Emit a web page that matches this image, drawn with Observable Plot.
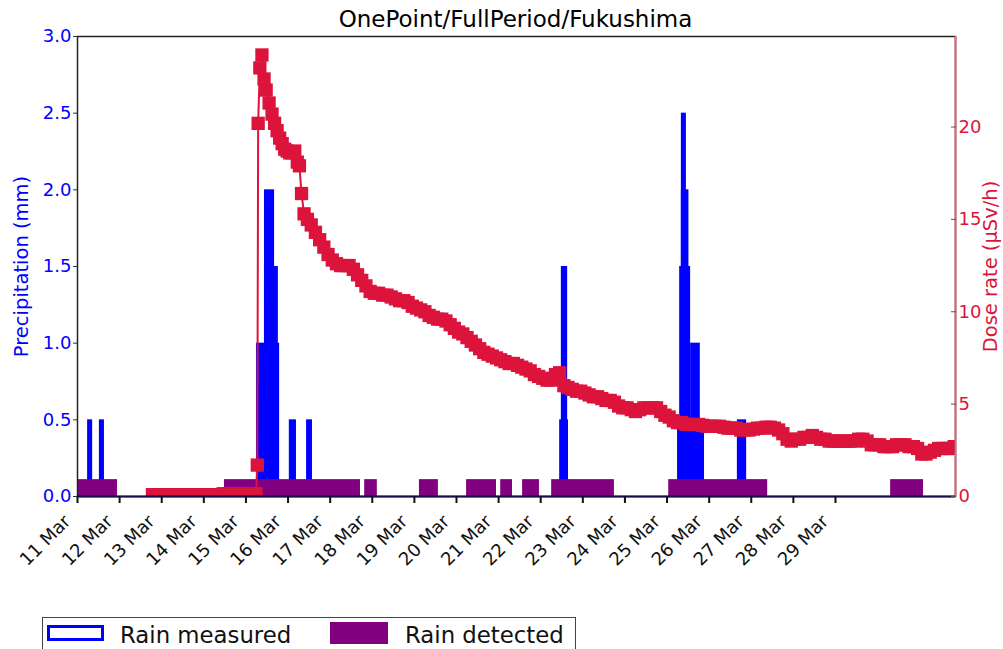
<!DOCTYPE html>
<html><head><meta charset="utf-8">
<script src="https://cdn.jsdelivr.net/npm/d3@7"></script>
<script src="https://cdn.jsdelivr.net/npm/@observablehq/plot@0.6"></script>
<style>
body{margin:0;background:#fff;font-family:"DejaVu Sans",sans-serif;overflow:hidden}
#wrap{position:relative;width:1003px;height:649px;overflow:hidden}
#title{position:absolute;left:0;width:1031px;top:8px;text-align:center;font-size:23px;line-height:23px;color:#000}
#chart{position:absolute;left:0;top:0}
#legend{position:absolute;left:42px;top:617px;width:534px;height:60px;border:1px solid #444;box-sizing:border-box}
.sw{position:absolute;box-sizing:border-box}
.lt{position:absolute;font-size:22.8px;line-height:22px;color:#111;white-space:nowrap}
</style></head>
<body><div id="wrap">
<div id="chart"></div>
<div id="title">OnePoint/FullPeriod/Fukushima</div>
<div id="legend">
  <div class="sw" style="left:4px;top:7px;width:57px;height:16px;border:3px solid blue;background:#fff"></div>
  <div class="lt" style="left:77px;top:6px">Rain measured</div>
  <div class="sw" style="left:287px;top:4px;width:58px;height:22px;background:purple"></div>
  <div class="lt" style="left:362px;top:6px">Rain detected</div>
</div>
</div>
<script>
// ---- data ----
const xDomain = [11, 31.85];           // days of March
const precipDomain = [0, 3];
const doseDomainMax = 24.9;

const dayTicks = [11,12,13,14,15,16,17,18,19,20,21,22,23,24,25,26,27,28,29];
const xTickLabels = ["11 Mar","12 Mar","13 Mar","14 Mar","15 Mar","16 Mar","17 Mar","18 Mar","19 Mar","20 Mar","21 Mar","22 Mar","23 Mar","24 Mar","25 Mar","26 Mar","27 Mar","28 Mar","29 Mar"];
const precipTicks = [0, 0.5, 1, 1.5, 2, 2.5, 3];
const doseTicks = [0, 5, 10, 15, 20];

// rain measured: [start day, end day] and precipitation (mm)
const rainStart = [11.24, 11.52, 15.25, 15.44, 15.44, 16.03, 16.44, 22.45, 22.49, 25.25, 25.30, 25.56, 25.34, 25.34, 26.67];
const rainEnd   = [11.36, 11.64, 15.80, 15.77, 15.68, 16.20, 16.58, 22.66, 22.64, 25.89, 25.56, 25.79, 25.52, 25.46, 26.89];
const rainValue = [0.5,   0.5,   1.0,   1.5,   2.0,   0.5,   0.5,   0.5,   1.5,   0.5,   1.5,   1.0,   2.0,   2.5,   0.5];

// rain detected periods
const detStart = [11.0, 14.49, 17.82, 19.12, 20.24, 21.05, 21.57, 22.26, 25.04, 30.31];
const detEnd   = [11.95, 17.72, 18.12, 19.57, 20.95, 21.33, 21.97, 23.75, 27.39, 31.09];
const detLevel = 0.11;

// dose rate (uSv/h)
const doseDay = [
 12.78,12.90,13.02,13.14,13.26,13.38,13.50,13.62,13.74,13.86,13.98,14.10,14.22,14.34,14.46,14.58,14.70,14.82,14.94,15.06,15.18,15.24,
 15.27,15.29,15.33,15.38,15.43,15.48,15.55,15.62,15.68,15.74,15.80,15.86,15.92,15.98,16.04,16.10,16.16,16.22,16.27,16.32,16.38,
 16.46,16.55,16.65,16.75,16.85,16.95,17.05,17.15,17.25,17.35,17.45,17.55,17.65,17.75,17.85,17.95,18.05,18.15,18.25,18.35,18.45,18.55,18.65,18.75,18.85,18.95,
 19.05,19.15,19.25,19.35,19.45,19.55,19.65,19.75,19.85,19.95,20.05,20.15,20.25,20.35,20.45,20.55,20.65,20.75,20.85,20.95,
 21.05,21.15,21.25,21.35,21.45,21.55,21.65,21.75,21.85,21.95,22.05,22.15,22.25,22.35,22.45,22.55,22.65,22.75,22.85,22.95,
 23.05,23.15,23.25,23.35,23.45,23.55,23.65,23.75,23.85,23.95,24.05,24.15,24.25,24.35,24.45,24.55,24.65,24.75,24.85,24.95,
 25.05,25.15,25.25,25.35,25.45,25.55,25.65,25.75,25.85,25.95,26.05,26.15,26.25,26.35,26.45,26.55,26.65,26.75,26.85,26.95,
 27.05,27.15,27.25,27.35,27.45,27.55,27.65,27.75,27.85,27.95,28.05,28.15,28.25,28.35,28.45,28.55,28.65,28.75,28.85,28.95,
 29.05,29.15,29.25,29.35,29.45,29.55,29.65,29.75,29.85,29.95,30.05,30.15,30.25,30.35,30.45,30.55,30.65,30.75,30.85,30.95,
 31.05,31.15,31.25,31.35,31.45,31.55,31.65,31.75,31.82];
const doseValue = [
 0.1,0.1,0.1,0.1,0.1,0.1,0.1,0.1,0.1,0.1,0.1,0.1,0.1,0.1,0.15,0.15,0.15,0.15,0.15,0.15,0.15,0.15,
 1.7,20.2,23.2,23.9,22.6,22.0,21.3,20.7,20.2,19.8,19.4,19.1,18.8,18.7,18.6,18.6,18.7,18.1,17.9,16.4,15.3,
 15.0,14.7,14.3,13.9,13.5,13.1,12.8,12.6,12.5,12.5,12.5,12.3,12.0,11.7,11.4,11.1,11.0,11.0,10.9,10.9,10.8,10.7,10.6,10.6,10.5,10.3,
 10.2,10.1,10.0,9.8,9.7,9.6,9.6,9.5,9.3,9.1,8.9,8.8,8.6,8.4,8.2,8.0,7.8,7.7,7.6,7.5,
 7.4,7.3,7.2,7.2,7.1,7.0,6.9,6.8,6.6,6.5,6.4,6.3,6.3,6.6,6.7,6.0,5.9,5.8,5.7,5.7,
 5.6,5.5,5.4,5.4,5.3,5.2,5.2,5.1,4.9,4.8,4.8,4.7,4.6,4.7,4.8,4.8,4.8,4.8,4.6,4.4,
 4.3,4.1,4.0,4.0,3.9,3.9,3.9,3.9,3.85,3.8,3.8,3.8,3.8,3.75,3.7,3.7,3.7,3.6,3.6,3.6,
 3.65,3.7,3.7,3.75,3.75,3.7,3.6,3.4,3.1,3.0,3.1,3.1,3.2,3.2,3.3,3.2,3.1,3.1,3.0,3.0,
 3.0,3.0,3.0,3.0,3.0,3.1,3.1,3.0,2.8,2.8,2.8,2.7,2.7,2.7,2.8,2.8,2.8,2.7,2.7,2.6,
 2.3,2.3,2.4,2.5,2.6,2.6,2.6,2.6,2.7];

// ---- tables ----
const k = precipDomain[1] / doseDomainMax;
const rain = rainStart.map((s, i) => ({start: s, end: rainEnd[i], value: rainValue[i]}));
const detected = detStart.map((s, i) => ({start: s, end: detEnd[i]}));
const dose = doseDay.map((d, i) => ({day: d, value: doseValue[i]}));

const RED = "#dc143c";
const chart = Plot.plot({
  width: 1003, height: 600,
  marginTop: 36, marginLeft: 77, marginRight: 48, marginBottom: 104,
  style: {fontFamily: "DejaVu Sans, sans-serif", fontSize: "18px", background: "white", overflow: "visible"},
  x: {type: "linear", domain: xDomain},
  y: {domain: precipDomain},
  marks: [
    Plot.rect(rain, {x1: "start", x2: "end", y1: 0, y2: "value", fill: "blue"}),
    Plot.rect(detected, {x1: "start", x2: "end", y1: 0, y2: detLevel, fill: "purple"}),
    Plot.line(dose, {x: "day", y: d => d.value * k, stroke: RED, strokeWidth: 2, clip: true}),
    Plot.dot(dose, {x: "day", y: d => d.value * k, symbol: "square", r: 7.5, fill: RED, stroke: "none", clip: true}),
    Plot.frame({stroke: "#222", strokeWidth: 1.5}),
    Plot.ruleX([xDomain[1]], {stroke: "#e0687c", strokeWidth: 2}),
    Plot.ruleY([0], {stroke: "#10104a", strokeWidth: 2}),
    // left axis
    Plot.axisY(precipTicks, {anchor: "left", tickSize: 4, tickPadding: 2, stroke: "#333", fill: "blue", fontSize: 18, tickFormat: d3.format(".1f"), label: null}),
    // right axis (dose)
    Plot.axisY(doseTicks.map(v => v * k), {anchor: "right", tickSize: 5, dx: -5, stroke: "#555", fill: "none", label: null}),
    Plot.axisY(doseTicks.map(v => v * k), {anchor: "right", tickSize: 0, tickPadding: 3, fill: RED, fontSize: 18, tickFormat: v => String(Math.round(v / k)), label: null}),
    // x axis
    Plot.axisX(dayTicks, {anchor: "bottom", tickSize: 7, stroke: "#111", strokeWidth: 2, fill: "none", label: null}),
    Plot.text(dayTicks, {x: d => d, text: (d, i) => xTickLabels[i], frameAnchor: "bottom", rotate: -45, textAnchor: "end", lineAnchor: "middle", dx: -10, dy: 22, fontSize: 18, fill: "#111"}),
    // axis titles
    Plot.text(["Precipitation (mm)"], {text: d => d, frameAnchor: "left", rotate: -90, textAnchor: "middle", lineAnchor: "middle", dx: -56, fill: "blue", fontSize: 19.5}),
    Plot.text(["Dose rate (\u03bcSv/h)"], {text: d => d, frameAnchor: "right", rotate: -90, textAnchor: "middle", lineAnchor: "middle", dx: 35, fill: RED, fontSize: 19.5})
  ]
});
document.getElementById("chart").appendChild(chart);
</script>
</body></html>
